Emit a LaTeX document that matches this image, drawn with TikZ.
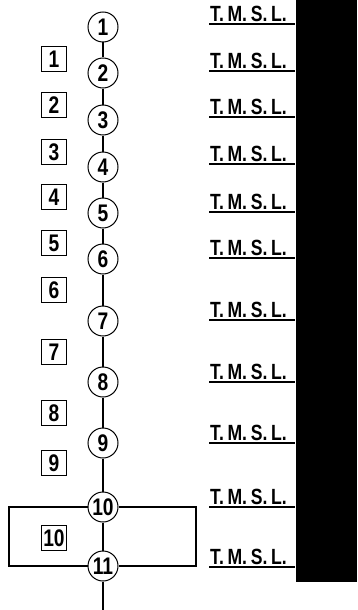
\documentclass[tikz,border=0pt]{standalone}
\usepackage{fontspec}
\newfontfamily\gotica[FakeStretch=0.8]{Liberation Sans}
\begin{document}
\begin{tikzpicture}[
    x=1pt, y=-1pt,
    punto/.style={circle, draw=black, line width=1pt, minimum size=30pt, inner sep=0pt, fill=white, font=\gotica\bfseries\fontsize{24}{24}\selectfont},
    tramo/.style={rectangle, draw=black, line width=1pt, minimum size=25pt, inner sep=0pt, font=\gotica\bfseries\fontsize{24}{24}\selectfont},
    nivel/.style={anchor=south west, inner xsep=1pt, inner ysep=2.2pt, font=\gotica\bfseries\fontsize{22}{22}\selectfont,
        append after command={(\tikzlastnode.south west) edge[line width=1.3pt] ([xshift=86pt]\tikzlastnode.south west)}},
    linea/.style={line width=1.2pt},
]
\useasboundingbox (0,0) rectangle (357,610);

% columna de puntos
\foreach \n/\y in {1/27, 2/73, 3/120, 4/167, 5/213, 6/259, 7/321, 8/382, 9/443, 10/507, 11/566}
  \node (p\n) [punto] at (103,\y) {\n};

% tramos
\foreach \n/\y in {1/59, 2/105, 3/152, 4/197, 5/243, 6/290, 7/352, 8/413, 9/463, 10/538}
  \node (t\n) [tramo] at (54,\y) {\n};

% cotas
\foreach \n/\y in {1/24, 2/71, 3/117, 4/164, 5/212, 6/258, 7/320, 8/382, 9/443, 10/507, 11/567}
  \node (c\n) [nivel] at (209,\y) {T.\,M.\,S.\,L.};

\coordinate (fin) at (103,610);
\coordinate (izqa) at (9,507);
\coordinate (izqb) at (9,566);
\coordinate (dera) at (196,507);
\coordinate (derb) at (196,566);

\foreach \a/\b in {1/2, 2/3, 3/4, 4/5, 5/6, 6/7, 7/8, 8/9, 9/10, 10/11}
  \draw [linea] (p\a) -- (p\b);
\draw [linea] (p11) -- (fin);
\draw [linea] (p10.west) -- (izqa) -- (izqb) -- (p11.west);
\draw [linea] (p10.east) -- (dera) -- (derb) -- (p11.east);

\fill [black] (296,0) rectangle (357,582);

\end{tikzpicture}
\end{document}
